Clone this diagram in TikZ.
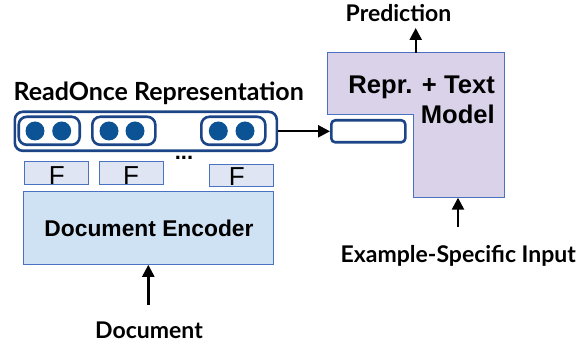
\documentclass[tikz,border=0pt]{standalone}
\usepackage{fontspec}
\newfontfamily\lato{Lato}
\newfontfamily\arial{Liberation Sans}
\usetikzlibrary{arrows.meta}
\definecolor{dkblue}{HTML}{1C4587}
\definecolor{dotblue}{HTML}{0B5394}
\definecolor{encfill}{HTML}{CFE2F3}
\definecolor{ffill}{HTML}{DFE5F3}
\definecolor{thinblue}{HTML}{4A72C0}
\definecolor{lav}{HTML}{D9D2E9}
\tikzset{
  arr/.style={line width=2.4pt,-{Triangle[length=12pt,width=12pt]}},
  pill/.style={draw=dkblue,line width=2.6pt,rounded corners=8pt},
  dot/.style={fill=dotblue,circle,minimum size=19pt,inner sep=0pt},
  fbox/.style={draw=thinblue,fill=ffill,line width=1pt,minimum width=64pt,minimum height=22.6pt,inner sep=0pt},
  lbl/.style={font=\lato\bfseries\fontsize{23}{26}\selectfont,inner sep=0pt},
  ftxt/.style={font=\arial\fontsize{26}{30}\selectfont,anchor=base,inner sep=0pt},
  mtxt/.style={font=\arial\bfseries\fontsize{25.6}{30}\selectfont,anchor=base east,inner sep=0pt},
}
\begin{document}
\begin{tikzpicture}[x=1pt,y=-1pt]
\useasboundingbox (0,0) rectangle (587,347);
% model L-shape
\draw[fill=lav,draw=thinblue,line width=1pt] (327,53) -- (504,53) -- (504,197.7) -- (413.3,197.7) -- (413.3,115) -- (327,115) -- cycle;
\coordinate (mtop) at (415.7,53);
\coordinate (mbot) at (458,197.7);
\node[mtxt] (repr) at (495,93.3) {Repr. + Text};
\node[mtxt] (modl) at (495,124) {Model};
% slot
\node[draw=dkblue,fill=white,line width=2.6pt,rounded corners=4pt,minimum width=74pt,minimum height=22pt,inner sep=0pt] (slot) at (368.3,131.3) {};
% ReadOnce
\node[lbl,font=\lato\bfseries\fontsize{25}{28}\selectfont,anchor=base west] (rotitle) at (13.3,100.5) {ReadOnce Representation};
\node[pill,minimum width=262pt,minimum height=39pt,inner sep=0pt] (ro) at (145.8,131.3) {};
\node[pill,minimum width=61pt,minimum height=28pt,inner sep=0pt] (p1) at (49.2,130.8) {};
\node[pill,minimum width=63pt,minimum height=28pt,inner sep=0pt] (p2) at (123.8,130.8) {};
\node[pill,minimum width=64pt,minimum height=28pt,inner sep=0pt] (p3) at (233.3,130.8) {};
\node[dot] (d1) at (35,131) {};
\node[dot] (d2) at (61.7,131) {};
\node[dot] (d3) at (109,131) {};
\node[dot] (d4) at (135,131) {};
\node[dot] (d5) at (218.3,131) {};
\node[dot] (d6) at (245,131) {};
\node[font=\arial\bfseries\fontsize{22}{24}\selectfont,anchor=base,inner sep=0pt] (dots) at (184,160) {...};
% F boxes
\node[fbox] (f1) at (56.3,173) {};
\node[fbox] (f2) at (131.2,173) {};
\node[fbox] (f3) at (241.2,175.5) {};
\node[ftxt] at (56.7,184.5) {F};
\node[ftxt] at (131,184.5) {F};
\node[ftxt] at (236.7,186) {F};
% encoder
\node[draw=thinblue,fill=encfill,line width=1pt,minimum width=250pt,minimum height=72.6pt,inner sep=0pt] (enc) at (148.3,228) {};
\node[font=\arial\bfseries\fontsize{22.8}{26}\selectfont,anchor=base,inner sep=0pt] (enctxt) at (149,236.7) {Document Encoder};
% labels
\node[lbl,anchor=base] (doc) at (149,339) {Document};
\node[lbl,anchor=base] (pred) at (398.5,21.7) {Prediction};
\node[lbl,anchor=base] (ex) at (458.3,262.7) {Example-Specific Input};
% arrows
\draw[arr] (148.3,305) coordinate (docarr) -- (enc.south);
\draw[arr] (mtop) -- ++(0,-25) coordinate (ptip);
\draw[arr] (458,226.7) coordinate (exarr) -- (mbot);
\draw[arr] (ro.east) -- (slot.west);
\end{tikzpicture}
\end{document}
